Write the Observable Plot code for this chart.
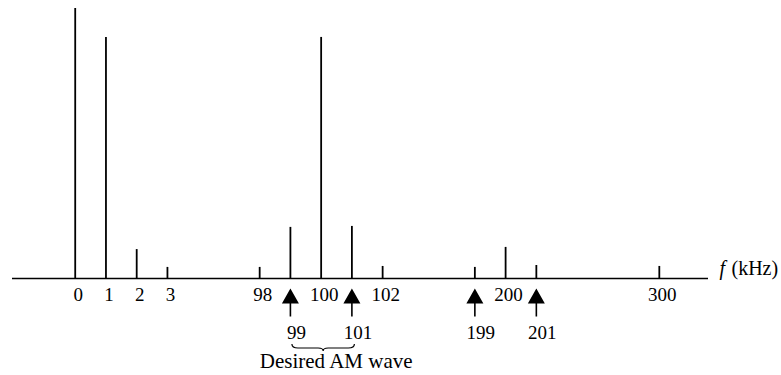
<!DOCTYPE html>
<html>
<head>
<meta charset="utf-8">
<script src="https://cdn.jsdelivr.net/npm/d3@7"></script>
<script src="https://cdn.jsdelivr.net/npm/@observablehq/plot@0.6"></script>
<style>
  html, body { margin: 0; padding: 0; background: white; }
  svg text { font-family: "Liberation Serif", "Times New Roman", serif; }
</style>
</head>
<body>
<div id="chart"></div>
<script>
// Spectral line frequencies (kHz) and relative amplitudes
const freqs = [0, 1, 2, 3, 98, 99, 100, 101, 102, 199, 200, 201, 300];
const amplitudes = [1.12, 1, 0.12, 0.046, 0.046, 0.212, 1, 0.216, 0.05, 0.046, 0.129, 0.054, 0.05];
// Tick labels on the axis
const axisLabels = [0, 1, 2, 3, 98, 100, 102, 200, 300];
// Frequencies marked with arrows
const markedFreqs = [99, 101, 199, 201];
// Band braced as the wanted signal
const braceBand = [99, 101];
const captionText = "Desired AM wave";
const axisVar = "f";
const axisUnit = "(kHz)";

// Broken frequency axis: breakpoints of the frequency and the number of slots they occupy
const breakFreqs = [0, 3, 98, 102, 199, 201, 300];
const breakSlots = [0, 3, 6, 10, 13, 15, 19];
const slot = d3.scaleLinear().domain(breakFreqs).range(breakSlots);

const spectrum = freqs.map((f, i) => ({f, a: amplitudes[i]}));
const serif = "Liberation Serif";

const arrowSymbol = {
  draw(ctx) {
    ctx.moveTo(0, -10);
    ctx.lineTo(8.5, 5);
    ctx.lineTo(0.8, 5);
    ctx.lineTo(0.8, 18);
    ctx.lineTo(-0.8, 18);
    ctx.lineTo(-0.8, 5);
    ctx.lineTo(-8.5, 5);
    ctx.closePath();
  }
};

function braceMark(index, scales) {
  const x1 = scales.x(slot(braceBand[0])) + 2;
  const x2 = scales.x(slot(braceBand[1])) + 3;
  const xm = (x1 + x2) / 2;
  const y0 = scales.y(0);
  const yt = y0 + 66, ym = y0 + 70, yb = y0 + 73;
  const d = `M${x1},${yt} Q${x1},${ym} ${x1 + 6},${ym} L${xm - 5},${ym} Q${xm},${ym} ${xm},${yb} Q${xm},${ym} ${xm + 5},${ym} L${x2 - 6},${ym} Q${x2},${ym} ${x2},${yt}`;
  const p = document.createElementNS("http://www.w3.org/2000/svg", "path");
  p.setAttribute("d", d);
  p.setAttribute("fill", "none");
  p.setAttribute("stroke", "black");
  p.setAttribute("stroke-width", "1.2");
  return p;
}

const chart = Plot.plot({
  width: 781,
  height: 375,
  marginTop: 8,
  marginBottom: 97,
  marginLeft: 12,
  marginRight: 73,
  x: {domain: [-2.04, 20.6], axis: null},
  y: {domain: [0, 1.12], axis: null},
  style: {fontFamily: serif, background: "white", color: "black"},
  marks: [
    Plot.ruleY([0], {strokeWidth: 1.5}),
    Plot.ruleX(spectrum, {x: d => slot(d.f), y1: 0, y2: "a", strokeWidth: 1.8}),
    Plot.text(axisLabels, {x: d => slot(d), y: 0, text: d => String(d), dy: 22, dx: 3, lineAnchor: "bottom", fontSize: 19, fontFamily: serif}),
    Plot.dot(markedFreqs, {x: d => slot(d), y: 0, dy: 20, symbol: arrowSymbol, r: 5, fill: "black", stroke: "none"}),
    Plot.text(markedFreqs, {x: d => slot(d), y: 0, text: d => String(d), dy: 60, dx: 6, lineAnchor: "bottom", fontSize: 19, fontFamily: serif}),
    braceMark,
    Plot.text([captionText], {x: slot(100), y: 0, text: d => d, dy: 89, dx: 15, lineAnchor: "bottom", fontSize: 21, fontFamily: serif}),
    Plot.text([axisVar], {frameAnchor: "right", y: 0, text: d => d, dx: 11, dy: -4, lineAnchor: "bottom", textAnchor: "start", fontSize: 20, fontStyle: "italic", fontFamily: serif}),
    Plot.text([axisUnit], {frameAnchor: "right", y: 0, text: d => d, dx: 23, dy: -4, lineAnchor: "bottom", textAnchor: "start", fontSize: 20, fontFamily: serif})
  ]
});
document.getElementById("chart").appendChild(chart);
</script>
</body>
</html>
